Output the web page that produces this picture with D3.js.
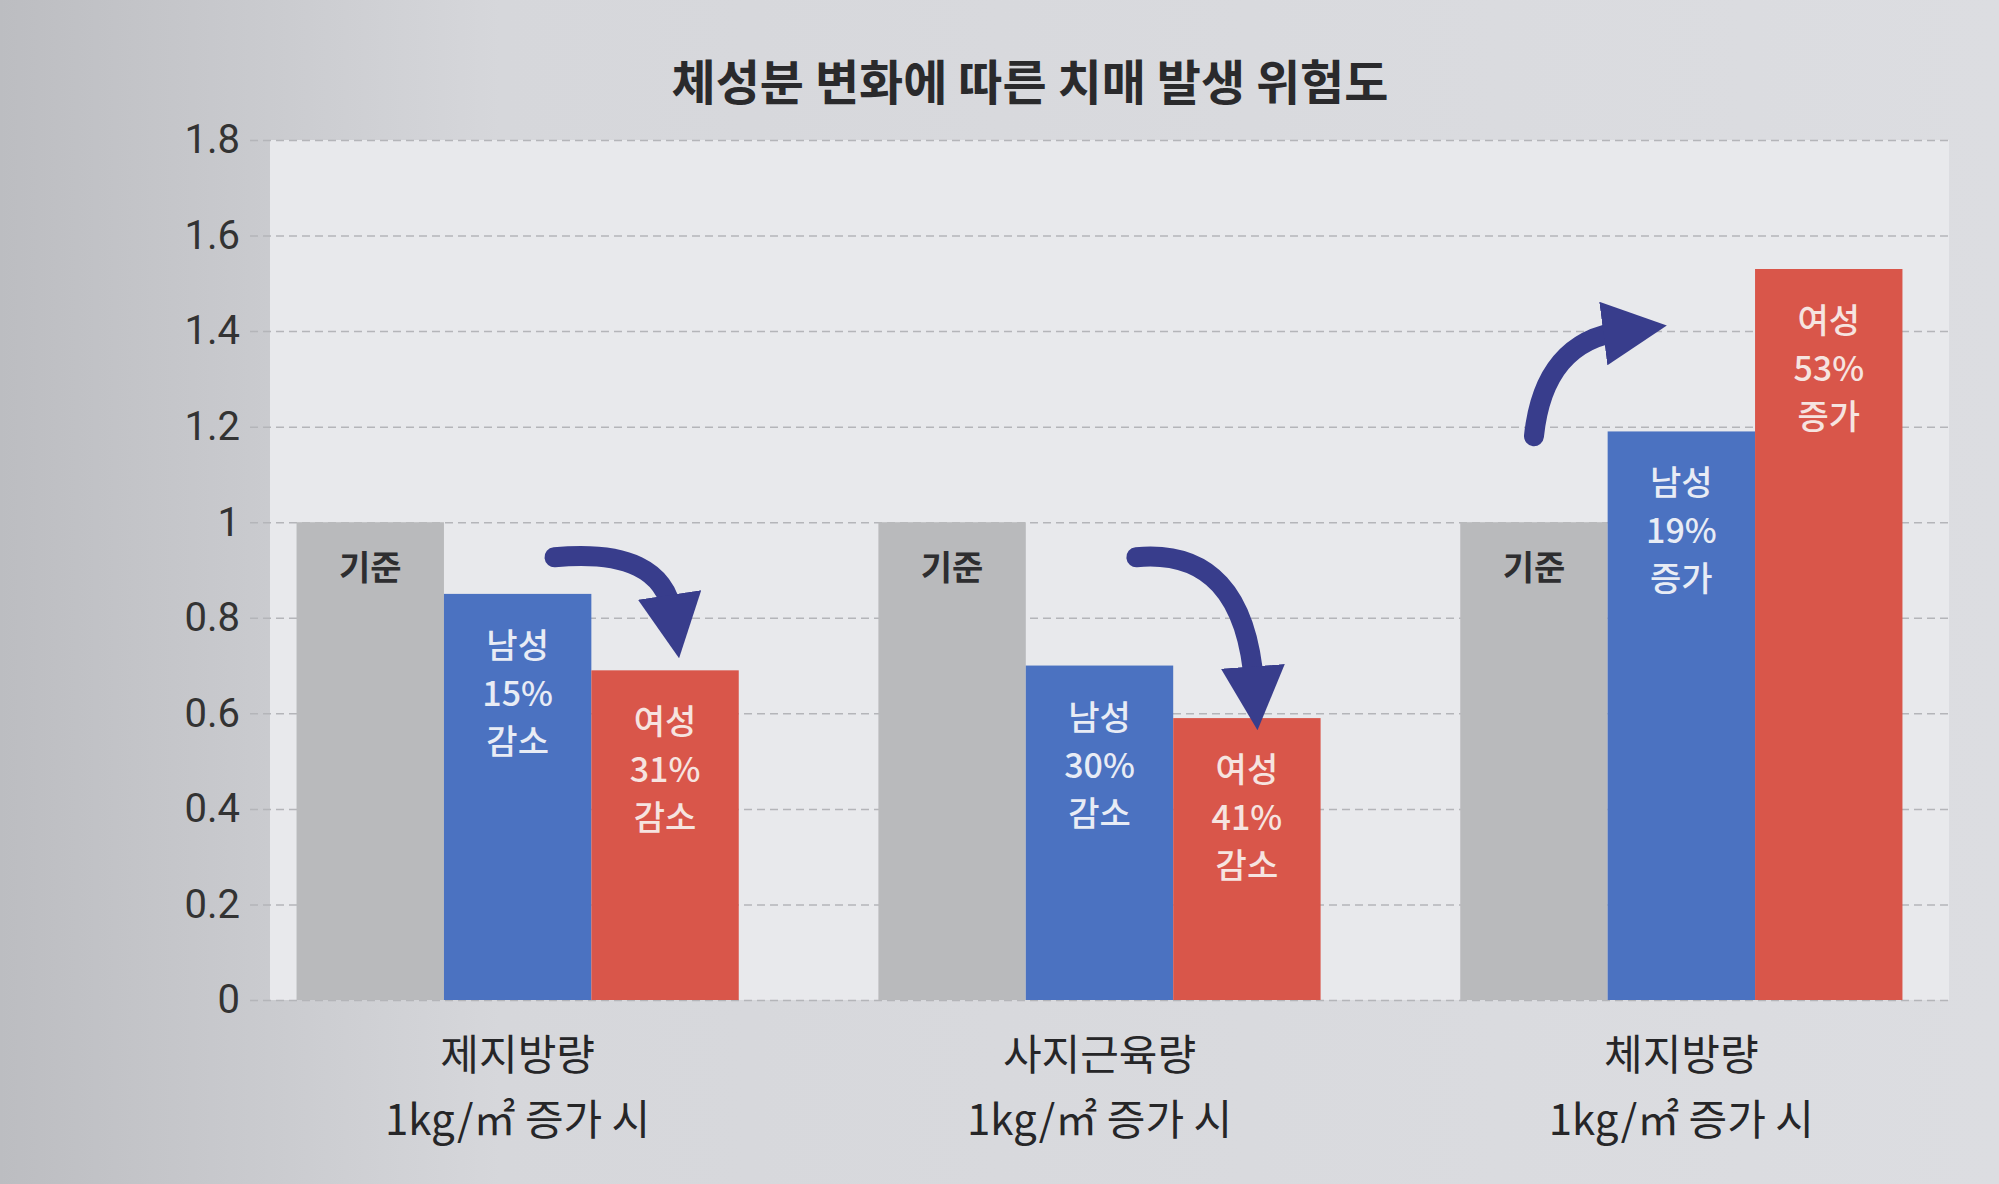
<!DOCTYPE html>
<html>
<head>
<meta charset="utf-8">
<script src="https://cdn.jsdelivr.net/npm/d3@7"></script>
<style>
  html, body { margin: 0; padding: 0; background: #d3d4d8; }
  svg { display: block; font-family: "Noto Sans CJK KR", "Noto Sans", sans-serif; }
</style>
</head>
<body>
<div id="chart"></div>
<script>
const categories = ["제지방량", "사지근육량", "체지방량"];
const subLabel = "1kg/㎡ 증가 시";
const series = ["기준", "남성", "여성"];
const baseValues = [1, 1, 1];
const maleValues = [0.85, 0.70, 1.19];
const femaleValues = [0.69, 0.59, 1.53];
const maleNotes = ["15% 감소", "30% 감소", "19% 증가"];
const femaleNotes = ["31% 감소", "41% 감소", "53% 증가"];
const yTicks = [0, 0.2, 0.4, 0.6, 0.8, 1, 1.2, 1.4, 1.6, 1.8];

const W = 1999, H = 1184;
const margin = { top: 140, right: 50, bottom: 184, left: 250 };

const colors = { "기준": "#b9babc", "남성": "#4b72c1", "여성": "#d9564a" };
const textColors = { "기준": "#2e2e30", "남성": "#e8ecf5", "여성": "#f6e4e0" };

const svg = d3.select("#chart").append("svg")
  .attr("width", W).attr("height", H)
  .attr("viewBox", `0 0 ${W} ${H}`);

// page shading, darker on the left like the photo
const defs = svg.append("defs");
const grad = defs.append("linearGradient").attr("id", "page").attr("x1", 0).attr("x2", 1);
grad.append("stop").attr("offset", "0").attr("stop-color", "#bcbdc1");
grad.append("stop").attr("offset", "0.25").attr("stop-color", "#d6d7db");
grad.append("stop").attr("offset", "1").attr("stop-color", "#dcdde1");
svg.append("rect").attr("width", W).attr("height", H).attr("fill", "url(#page)");

const x = d3.scaleBand().domain(categories)
  .range([margin.left, W - margin.right]).paddingInner(0.24).paddingOuter(0.08);
const xs = d3.scaleBand().domain(series).range([0, x.bandwidth()]);
const y = d3.scaleLinear().domain([0, 1.8]).range([H - margin.bottom, margin.top]);

// plot panel
svg.append("rect")
  .attr("x", margin.left + 20).attr("y", y(1.8))
  .attr("width", W - margin.right - margin.left - 20)
  .attr("height", y(0) - y(1.8))
  .attr("fill", "#e8e9ec");

// title
svg.append("text")
  .attr("x", 1030).attr("y", 100)
  .attr("text-anchor", "middle")
  .attr("font-size", 48).attr("font-weight", 700)
  .attr("fill", "#2a2a2c")
  .text("체성분 변화에 따른 치매 발생 위험도");

// y axis with dashed gridlines
const yAxis = svg.append("g")
  .attr("transform", `translate(${margin.left},0)`)
  .call(d3.axisLeft(y).tickValues(yTicks)
    .tickFormat(d => String(+d.toFixed(1)))
    .tickSize(-(W - margin.right - margin.left)).tickPadding(10));
yAxis.select(".domain").remove();
yAxis.selectAll(".tick line")
  .attr("stroke", "#b4b5b9").attr("stroke-width", 1.5)
  .attr("stroke-dasharray", "8,5");
yAxis.selectAll(".tick text")
  .attr("font-size", 40).attr("fill", "#333")
  .attr("font-family", "Roboto, 'Noto Sans', sans-serif");

// bars
const rows = categories.map((c, i) => ({
  cat: c,
  bars: [
    { s: "기준", v: baseValues[i], note: [] },
    { s: "남성", v: maleValues[i], note: ["남성"].concat(maleNotes[i].split(" ")) },
    { s: "여성", v: femaleValues[i], note: ["여성"].concat(femaleNotes[i].split(" ")) }
  ]
}));

const groups = svg.selectAll(".group").data(rows).enter()
  .append("g").attr("class", "group")
  .attr("transform", d => `translate(${x(d.cat)},0)`);

const bar = groups.selectAll(".bar").data(d => d.bars).enter()
  .append("g").attr("class", "bar");

bar.append("rect")
  .attr("x", d => xs(d.s))
  .attr("width", xs.bandwidth())
  .attr("y", d => y(d.v))
  .attr("height", d => y(0) - y(d.v))
  .attr("fill", d => colors[d.s]);

// label inside gray bar
bar.filter(d => d.s === "기준").append("text")
  .attr("x", d => xs(d.s) + xs.bandwidth() / 2)
  .attr("y", d => y(d.v) + 58)
  .attr("text-anchor", "middle")
  .attr("font-size", 34).attr("font-weight", 700)
  .attr("fill", textColors["기준"])
  .text("기준");

// labels inside blue / red bars
bar.filter(d => d.s !== "기준").each(function(d) {
  const t = d3.select(this).append("text")
    .attr("text-anchor", "middle")
    .attr("font-size", 34).attr("font-weight", 500)
    .attr("fill", textColors[d.s]);
  d.note.forEach((line, k) => {
    t.append("tspan")
      .attr("x", xs(d.s) + xs.bandwidth() / 2)
      .attr("y", y(d.v) + 64 + k * 48)
      .text(line);
  });
});

// x labels
const xl = svg.selectAll(".xlab").data(categories).enter()
  .append("text").attr("class", "xlab")
  .attr("text-anchor", "middle")
  .attr("font-size", 42).attr("fill", "#262628");
xl.append("tspan")
  .attr("x", d => x(d) + x.bandwidth() / 2).attr("y", y(0) + 70)
  .text(d => d);
xl.append("tspan")
  .attr("x", d => x(d) + x.bandwidth() / 2).attr("y", y(0) + 135)
  .text(subLabel);

// curved arrows between male and female bars
defs.append("marker")
  .attr("id", "head").attr("viewBox", "0 0 10 10")
  .attr("refX", 3).attr("refY", 5)
  .attr("markerWidth", 3.2).attr("markerHeight", 3.2)
  .attr("orient", "auto")
  .append("path").attr("d", "M0,0 L10,5 L0,10 z").attr("fill", "#383d8c");

rows.forEach((r, i) => {
  const gx = x(r.cat);
  const bw = xs.bandwidth();
  const up = r.bars[2].v > r.bars[0].v;
  let p;
  if (!up) {
    const x0 = gx + xs("남성") + bw * 0.75, y0 = y(r.bars[0].v) + 35;
    const x1 = gx + xs("여성") + bw * 0.55, y1 = y(r.bars[1].v) + 20;
    p = `M${x0},${y0} Q${x1 - 10},${y0 - 10} ${x1},${y1}`;
  } else {
    const x0 = gx + xs("기준") + bw * 0.5, y0 = y(1.18);
    const x1 = gx + xs("남성") + bw * 0.1, y1 = y(1.4);
    p = `M${x0},${y0} Q${x0 + 10},${y1 + 10} ${x1},${y1}`;
  }
  svg.append("path")
    .attr("d", p)
    .attr("fill", "none")
    .attr("stroke", "#383d8c")
    .attr("stroke-width", 20)
    .attr("stroke-linecap", "round")
    .attr("marker-end", "url(#head)");
});
</script>
</body>
</html>
